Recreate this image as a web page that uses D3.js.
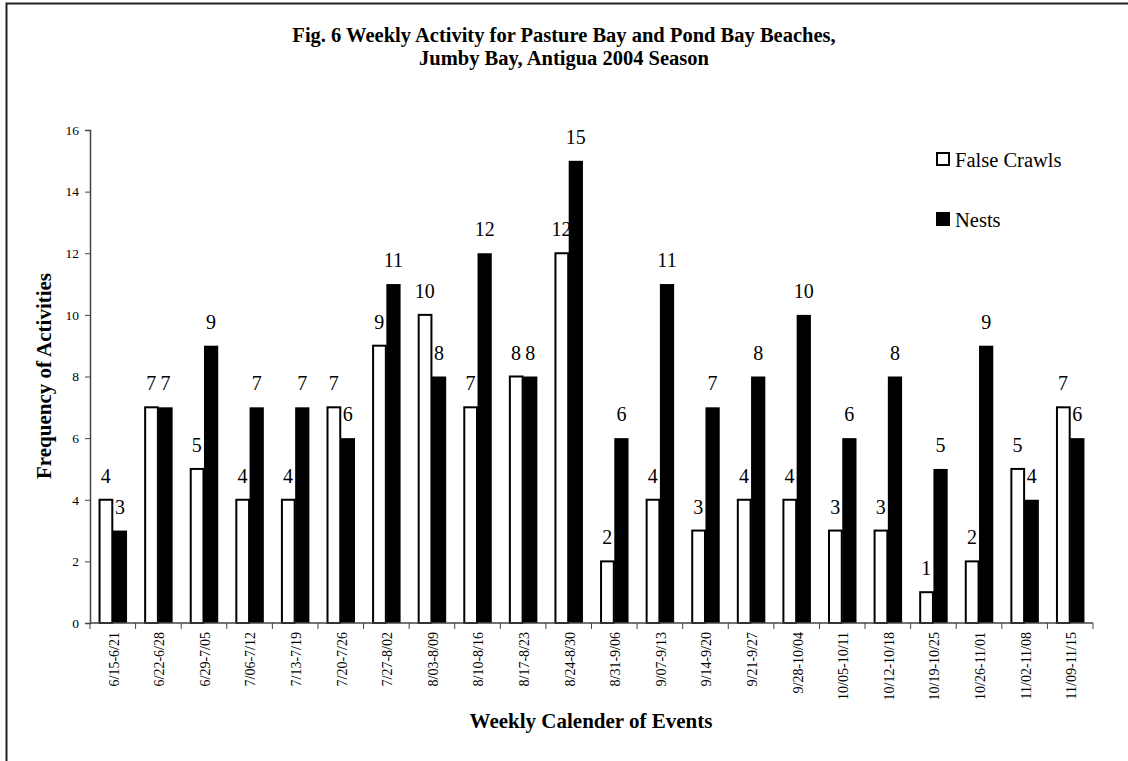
<!DOCTYPE html>
<html>
<head>
<meta charset="utf-8">
<script src="https://cdn.jsdelivr.net/npm/d3@7"></script>
<style>
  html, body { margin: 0; padding: 0; background: #fff; }
  svg { display: block; font-family: "Liberation Serif", "Times New Roman", serif; }
</style>
</head>
<body>
<svg id="chart" width="1128" height="761"></svg>
<script>
// Weekly nesting activity, Pasture Bay and Pond Bay, 2004
const weeks = [
  "6/15-6/21", "6/22-6/28", "6/29-7/05", "7/06-7/12", "7/13-7/19", "7/20-7/26",
  "7/27-8/02", "8/03-8/09", "8/10-8/16", "8/17-8/23", "8/24-8/30", "8/31-9/06",
  "9/07-9/13", "9/14-9/20", "9/21-9/27", "9/28-10/04", "10/05-10/11", "10/12-10/18",
  "10/19-10/25", "10/26-11/01", "11/02-11/08", "11/09-11/15"
];
const falseCrawls = [4, 7, 5, 4, 4, 7, 9, 10, 7, 8, 12, 2, 4, 3, 4, 4, 3, 3, 1, 2, 5, 7];
const nests       = [3, 7, 9, 7, 7, 6, 11, 8, 12, 8, 15, 6, 11, 7, 8, 10, 6, 8, 5, 9, 4, 6];
const seriesNames = ["False Crawls", "Nests"];
const yTicks = [0, 2, 4, 6, 8, 10, 12, 14, 16];

const svg = d3.select("#chart");

// outer frame
svg.append("rect")
  .attr("x", 6.5).attr("y", 3.5)
  .attr("width", 1140).attr("height", 780)
  .attr("fill", "none").attr("stroke", "#222").attr("stroke-width", 2);

const plotLeft = 90, plotRight = 1093, plotTop = 130, plotBottom = 623;

const x0 = d3.scaleBand().domain(weeks).range([plotLeft, plotRight]).padding(0);
const x1 = d3.scaleBand().domain(seriesNames).range([0, x0.bandwidth()])
  .paddingInner(0).paddingOuter(0.6);
const y = d3.scaleLinear().domain([0, 16]).range([plotBottom, plotTop]);

const rows = weeks.map((w, i) => ({ week: w, values: [falseCrawls[i], nests[i]] }));

// bars
const groups = svg.append("g").selectAll("g").data(rows).join("g")
  .attr("transform", d => `translate(${x0(d.week)},0)`);

groups.selectAll("rect").data(d => d.values.map((v, k) => ({ key: seriesNames[k], v })))
  .join("rect")
  .attr("x", d => x1(d.key) + (d.key === "False Crawls" ? 1 : 0))
  .attr("y", d => y(d.v))
  .attr("width", d => x1.bandwidth() - (d.key === "False Crawls" ? 1.5 : 0))
  .attr("height", d => y(0) - y(d.v))
  .attr("fill", d => d.key === "False Crawls" ? "#fff" : "#000")
  .attr("stroke", "#000")
  .attr("stroke-width", d => d.key === "False Crawls" ? 2 : 0);

// value labels
groups.selectAll("text.val").data(d => d.values.map((v, k) => ({ key: seriesNames[k], v })))
  .join("text").attr("class", "val")
  .attr("x", d => x1(d.key) + x1.bandwidth() / 2)
  .attr("y", d => y(d.v) - 17)
  .attr("text-anchor", "middle")
  .attr("font-size", 20)
  .attr("fill", "#000")
  .text(d => d.v);

// y axis
const yAxis = svg.append("g").attr("transform", `translate(${plotLeft},0)`)
  .call(d3.axisLeft(y).tickValues(yTicks).tickSize(5).tickPadding(6).tickFormat(d3.format("d")));
yAxis.select(".domain").attr("stroke", "#444").attr("stroke-width", 1.5);
yAxis.selectAll(".tick line").attr("stroke", "#444");
yAxis.selectAll(".tick text").attr("font-size", 13.5).attr("font-family", "Liberation Serif").attr("fill", "#000");

// x axis: ticks at category boundaries
const xAxis = svg.append("g").attr("transform", `translate(0,${plotBottom})`);
xAxis.append("line").attr("x1", plotLeft).attr("x2", plotRight).attr("y1", 0).attr("y2", 0)
  .attr("stroke", "#444").attr("stroke-width", 1.5);
const boundaries = weeks.map(w => x0(w)).concat([plotRight]);
xAxis.selectAll("line.tk").data(boundaries).join("line").attr("class", "tk")
  .attr("x1", d => d).attr("x2", d => d).attr("y1", 0).attr("y2", 6)
  .attr("stroke", "#444").attr("stroke-width", 1);
xAxis.selectAll("text.cat").data(weeks).join("text").attr("class", "cat")
  .attr("transform", d => `translate(${x0(d) + x0.bandwidth() / 2 + 1},9) rotate(-90)`)
  .attr("text-anchor", "end")
  .attr("dy", "0.35em")
  .attr("font-size", 14)
  .attr("fill", "#000")
  .text(d => d);

// titles
svg.append("text").attr("x", 564).attr("y", 42).attr("text-anchor", "middle")
  .attr("font-size", 20.5).attr("font-weight", "bold")
  .text("Fig. 6 Weekly Activity for Pasture Bay and Pond Bay Beaches,");
svg.append("text").attr("x", 564).attr("y", 65).attr("text-anchor", "middle")
  .attr("font-size", 20.5).attr("font-weight", "bold")
  .text("Jumby Bay, Antigua 2004 Season");

svg.append("text").attr("x", 591).attr("y", 728).attr("text-anchor", "middle")
  .attr("font-size", 21).attr("font-weight", "bold")
  .text("Weekly Calender of Events");

svg.append("text").attr("transform", "translate(51,376) rotate(-90)")
  .attr("text-anchor", "middle")
  .attr("font-size", 21).attr("font-weight", "bold")
  .text("Frequency of Activities");

// legend
const legend = svg.append("g");
const legendY = [152, 212];
seriesNames.forEach((name, k) => {
  legend.append("rect")
    .attr("x", k === 0 ? 937 : 936).attr("y", legendY[k] + (k === 0 ? 1 : 0))
    .attr("width", k === 0 ? 12 : 14).attr("height", k === 0 ? 12 : 14)
    .attr("fill", k === 0 ? "#fff" : "#000")
    .attr("stroke", "#000").attr("stroke-width", k === 0 ? 2 : 0);
  legend.append("text").attr("x", 955).attr("y", legendY[k] + 14.5)
    .attr("font-size", 20.5).text(name);
});
</script>
</body>
</html>
